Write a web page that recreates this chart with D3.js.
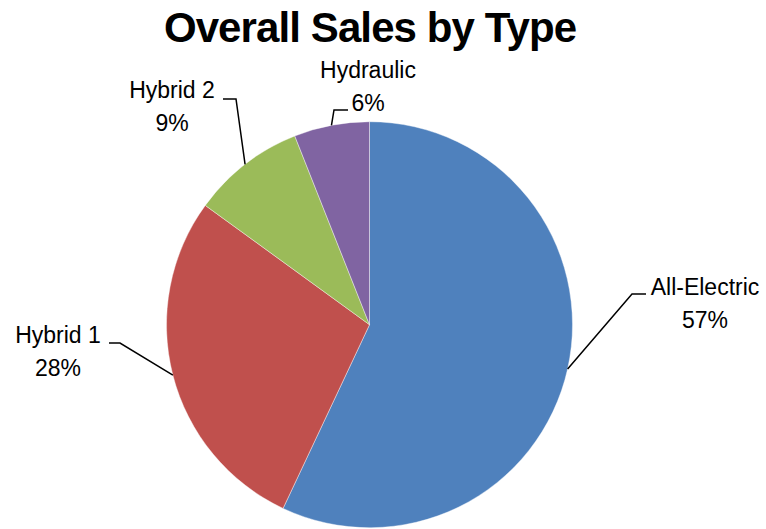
<!DOCTYPE html>
<html>
<head>
<meta charset="utf-8">
<script src="https://cdn.jsdelivr.net/npm/d3@7"></script>
<style>
  html, body { margin: 0; padding: 0; background: #fff; }
  svg { display: block; }
  text { font-family: "Liberation Sans", Arial, sans-serif; fill: #000; }
</style>
</head>
<body>
<svg id="chart" width="766" height="529"></svg>
<script>
// Sales share by drive type (percent)
const categories = ["All-Electric", "Hybrid 1", "Hybrid 2", "Hydraulic"];
const shares = [57, 28, 9, 6];
const colors = ["#4F81BD", "#C0504D", "#9BBB59", "#8064A2"];
const chartTitle = "Overall Sales by Type";

// Label placement: elbow of the leader line, end of its short horizontal run,
// and the centre / first baseline of the two-line label.
const labelLayout = [
  { elbow: [632, 294], end: [646, 294], x: 705, y: 295 },
  { elbow: [120, 343], end: [109, 343], x: 58,  y: 343 },
  { elbow: [236, 99],  end: [223, 99],  x: 172, y: 98  },
  { elbow: [334, 110], end: [348, 110], x: 368, y: 78  }
];

const svg = d3.select("#chart");
const cx = 369.5, cy = 324.7, radius = 203;

svg.append("text")
  .attr("x", 370)
  .attr("y", 42)
  .attr("text-anchor", "middle")
  .style("font-size", "42px")
  .style("font-weight", "bold")
  .style("letter-spacing", "-0.9px")
  .text(chartTitle);

const data = categories.map((c, i) => ({ name: c, value: shares[i], color: colors[i], layout: labelLayout[i] }));

const pie = d3.pie().value(d => d.value).sort(null);
const arc = d3.arc().innerRadius(0).outerRadius(radius);
const arcs = pie(data);

const g = svg.append("g").attr("transform", `translate(${cx},${cy})`);

g.selectAll("path.slice")
  .data(arcs)
  .join("path")
  .attr("class", "slice")
  .attr("d", arc)
  .attr("fill", d => d.data.color)
  .attr("stroke", "#ffffff")
  .attr("stroke-opacity", 0.5)
  .attr("stroke-width", 0.8);

// Leader lines from the slice edge at its mid-angle to the label
const edgePoint = d => {
  const a = (d.startAngle + d.endAngle) / 2;
  return [cx + radius * Math.sin(a), cy - radius * Math.cos(a)];
};

svg.selectAll("polyline.leader")
  .data(arcs)
  .join("polyline")
  .attr("class", "leader")
  .attr("points", d => [edgePoint(d), d.data.layout.elbow, d.data.layout.end].map(p => p.join(",")).join(" "))
  .attr("fill", "none")
  .attr("stroke", "#000")
  .attr("stroke-width", 1.5);

const labels = svg.selectAll("text.label")
  .data(arcs)
  .join("text")
  .attr("class", "label")
  .attr("text-anchor", "middle")
  .style("font-size", "23px");

labels.append("tspan")
  .attr("x", d => d.data.layout.x)
  .attr("y", d => d.data.layout.y)
  .text(d => d.data.name);

labels.append("tspan")
  .attr("x", d => d.data.layout.x)
  .attr("y", d => d.data.layout.y + 33)
  .text(d => `${d.data.value}%`);
</script>
</body>
</html>
